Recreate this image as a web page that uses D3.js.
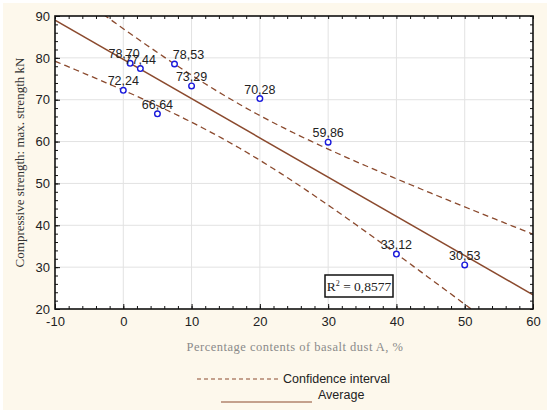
<!DOCTYPE html>
<html>
<head>
<meta charset="utf-8">
<script src="https://cdn.jsdelivr.net/npm/d3@7"></script>
<style>
  body { margin: 0; background: #fff; }
  svg { display: block; }
</style>
</head>
<body>
<svg id="chart" width="550" height="412"></svg>
<script>
const width = 550;
const height = 412;

// basalt dust content (%) and compressive strength (kN)
const dustContent = [0, 1, 2.5, 5, 7.5, 10, 20, 30, 40, 50];
const strength = [72.24, 78.70, 77.44, 66.64, 78.53, 73.29, 70.28, 59.86, 33.12, 30.53];
const pointLabels = ['72,24', '78,70', '77,44', '66,64', '78,53', '73,29', '70,28', '59,86', '33,12', '30,53'];
const xTicks = [-10, 0, 10, 20, 30, 40, 50, 60];
const yTicks = [20, 30, 40, 50, 60, 70, 80, 90];
const rSquaredText = '0,8577';
const tValue = 2.306; // t(0.975, n-2 = 8)

const margin = { top: 16, right: 17, bottom: 103, left: 55 };
const lineColor = '#8b4a2e';
const sans = 'Liberation Sans, Arial, sans-serif';
const serif = 'Liberation Serif, Times New Roman, serif';

const svg = d3.select('#chart');

svg.append('rect')
    .attr('x', 3).attr('y', 3)
    .attr('width', width - 6).attr('height', height - 5)
    .attr('fill', '#fdf8ec');

const x = d3.scaleLinear().domain([-10, 60]).range([margin.left, width - margin.right]);
const y = d3.scaleLinear().domain([20, 90]).range([height - margin.bottom, margin.top]);

// plot background
svg.append('rect')
    .attr('x', x(-10)).attr('y', y(90))
    .attr('width', x(60) - x(-10)).attr('height', y(20) - y(90))
    .attr('fill', '#fff');

// grid
svg.append('g')
    .selectAll('line')
    .data(xTicks.slice(1, -1))
    .join('line')
    .attr('x1', d => x(d)).attr('x2', d => x(d))
    .attr('y1', y(90)).attr('y2', y(20))
    .attr('stroke', '#e2e2e2').attr('stroke-width', 1);

svg.append('g')
    .selectAll('line')
    .data(yTicks.slice(1, -1))
    .join('line')
    .attr('x1', x(-10)).attr('x2', x(60))
    .attr('y1', d => y(d)).attr('y2', d => y(d))
    .attr('stroke', '#e2e2e2').attr('stroke-width', 1);

// regression + confidence band
const n = dustContent.length;
const meanX = d3.mean(dustContent);
const meanY = d3.mean(strength);
const sxx = d3.sum(dustContent, d => (d - meanX) ** 2);
const sxy = d3.sum(dustContent, (d, i) => (d - meanX) * (strength[i] - meanY));
const slope = sxy / sxx;
const intercept = meanY - slope * meanX;
const sse = d3.sum(dustContent, (d, i) => (strength[i] - (intercept + slope * d)) ** 2);
const se = Math.sqrt(sse / (n - 2));

const xs = d3.range(-10, 60.01, 0.5);
const fit = v => intercept + slope * v;
const halfWidth = v => tValue * se * Math.sqrt(1 / n + (v - meanX) ** 2 / sxx);

svg.append('clipPath').attr('id', 'plot-clip')
    .append('rect')
    .attr('x', x(-10)).attr('y', y(90))
    .attr('width', x(60) - x(-10)).attr('height', y(20) - y(90));

const plot = svg.append('g').attr('clip-path', 'url(#plot-clip)');
const line = d3.line().x(d => x(d[0])).y(d => y(d[1]));

plot.append('path')
    .attr('d', line(xs.map(v => [v, fit(v) + halfWidth(v)])))
    .attr('fill', 'none').attr('stroke', lineColor)
    .attr('stroke-width', 1.3).attr('stroke-dasharray', '6,4');

plot.append('path')
    .attr('d', line(xs.map(v => [v, fit(v) - halfWidth(v)])))
    .attr('fill', 'none').attr('stroke', lineColor)
    .attr('stroke-width', 1.3).attr('stroke-dasharray', '6,4');

plot.append('path')
    .attr('d', line([[-10, fit(-10)], [60, fit(60)]]))
    .attr('fill', 'none').attr('stroke', lineColor)
    .attr('stroke-width', 1.5);

// points
const labelShift = { 1: -6, 4: 14 };

svg.append('g')
    .selectAll('circle')
    .data(dustContent)
    .join('circle')
    .attr('cx', d => x(d))
    .attr('cy', (d, i) => y(strength[i]))
    .attr('r', 2.8)
    .attr('fill', '#fff')
    .attr('stroke', '#1a1adc')
    .attr('stroke-width', 1.4);

svg.append('g')
    .selectAll('text')
    .data(dustContent)
    .join('text')
    .attr('x', (d, i) => x(d) + (labelShift[i] || 0))
    .attr('y', (d, i) => y(strength[i]) - 5)
    .attr('text-anchor', 'middle')
    .attr('font-family', sans)
    .attr('font-size', 12.5)
    .attr('fill', '#222')
    .text((d, i) => pointLabels[i]);

// axes with inward ticks
const minorX = d3.range(-10, 60.1, 2);
const minorY = d3.range(20, 90.1, 2);

function styleAxis(g) {
    g.select('.domain').remove();
    g.selectAll('line').attr('stroke', '#111');
}

svg.append('g').attr('transform', `translate(0,${y(20)})`)
    .call(d3.axisBottom(x).tickValues(minorX).tickSize(-3).tickFormat('')).call(styleAxis);
svg.append('g').attr('transform', `translate(0,${y(90)})`)
    .call(d3.axisTop(x).tickValues(minorX).tickSize(-3).tickFormat('')).call(styleAxis);
svg.append('g').attr('transform', `translate(${x(-10)},0)`)
    .call(d3.axisLeft(y).tickValues(minorY).tickSize(-3).tickFormat('')).call(styleAxis);
svg.append('g').attr('transform', `translate(${x(60)},0)`)
    .call(d3.axisRight(y).tickValues(minorY).tickSize(-3).tickFormat('')).call(styleAxis);

svg.append('g').attr('transform', `translate(0,${y(20)})`)
    .call(d3.axisBottom(x).tickValues(xTicks).tickSize(-5).tickFormat(d => String(d)))
    .call(styleAxis)
    .call(g => g.selectAll('text')
        .attr('font-family', sans)
        .attr('font-size', 13).attr('fill', '#222').attr('dy', '1.1em'));

svg.append('g').attr('transform', `translate(${x(-10)},0)`)
    .call(d3.axisLeft(y).tickValues(yTicks).tickSize(-5).tickFormat(d => String(d)))
    .call(styleAxis)
    .call(g => g.selectAll('text')
        .attr('font-family', sans)
        .attr('font-size', 13).attr('fill', '#222').attr('x', -5));

// frame
svg.append('rect')
    .attr('x', x(-10)).attr('y', y(90))
    .attr('width', x(60) - x(-10)).attr('height', y(20) - y(90))
    .attr('fill', 'none').attr('stroke', '#111').attr('stroke-width', 1.6);

// R² box
const rBox = svg.append('g').attr('transform', 'translate(325,275)');
rBox.append('rect')
    .attr('width', 68).attr('height', 22)
    .attr('fill', '#fff').attr('stroke', '#111').attr('stroke-width', 1.5);
const rText = rBox.append('text')
    .attr('x', 34).attr('y', 16)
    .attr('text-anchor', 'middle')
    .attr('font-family', serif)
    .attr('font-size', 13.5).attr('fill', '#222');
rText.append('tspan').text('R');
rText.append('tspan').attr('font-size', 8).attr('dy', -5).text('2');
rText.append('tspan').attr('dy', 5).text(' = ' + rSquaredText);

// axis titles
svg.append('text')
    .attr('transform', `translate(24,${(y(20) + y(90)) / 2}) rotate(-90)`)
    .attr('text-anchor', 'middle')
    .attr('font-family', serif)
    .attr('font-size', 13)
    .attr('fill', '#333')
    .text('Compressive strength: max. strength kN');

svg.append('text')
    .attr('x', 295).attr('y', 351)
    .attr('text-anchor', 'middle')
    .attr('font-family', serif)
    .attr('font-size', 12.5)
    .attr('letter-spacing', 0.5)
    .attr('fill', '#8a8a8a')
    .text('Percentage contents of basalt dust A, %');

// legend
const legend = svg.append('g')
    .attr('font-family', sans)
    .attr('font-size', 12.5).attr('fill', '#222');

legend.append('line')
    .attr('x1', 197).attr('x2', 280).attr('y1', 379).attr('y2', 379)
    .attr('stroke', lineColor).attr('stroke-width', 1).attr('stroke-dasharray', '4,3');
legend.append('text').attr('x', 283).attr('y', 383).text('Confidence interval');

legend.append('line')
    .attr('x1', 221).attr('x2', 312).attr('y1', 402).attr('y2', 402)
    .attr('stroke', lineColor).attr('stroke-width', 1.2);
legend.append('text').attr('x', 318).attr('y', 399).text('Average');
</script>
</body>
</html>
